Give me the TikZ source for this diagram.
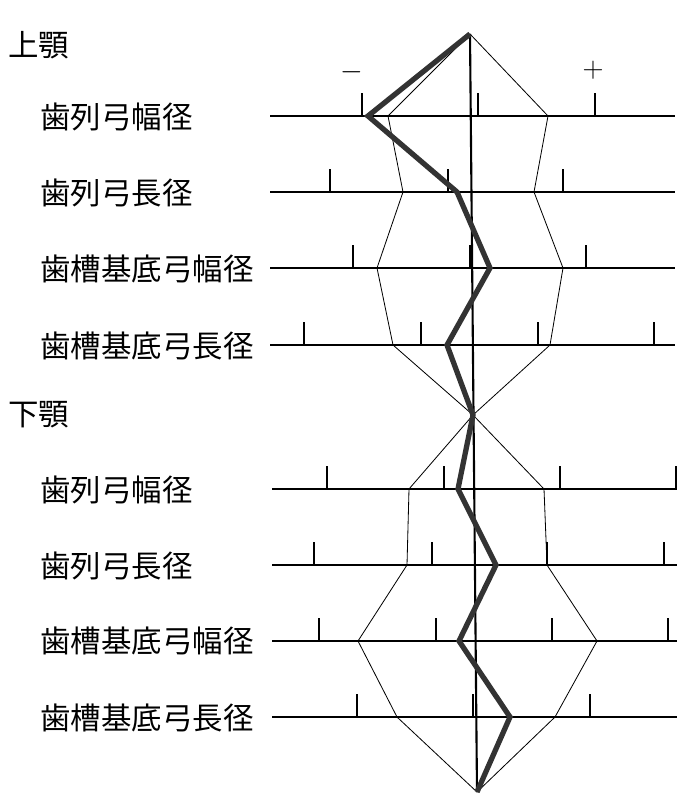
\documentclass[tikz,border=0pt]{standalone}
\usepackage{fontspec}
\newfontfamily\cjk{Noto Sans CJK JP}
\begin{document}
\begin{tikzpicture}[x=0.03cm,y=-0.03cm,
    lbl/.style={anchor=west,inner sep=0pt,font=\cjk\fontsize{26}{26}\selectfont},
    sign/.style={inner sep=0pt,font=\fontsize{26}{26}\selectfont},
    axis/.style={line width=1.8pt},
    tick/.style={line width=1pt},
    band/.style={line width=0.7pt},
    mean/.style={line width=4.5pt,draw=black!80,line join=miter}]
        \useasboundingbox (0,0) rectangle (692,796);
        % labels
        \node[lbl] (upper) at (8,45) {上顎};
        \node[lbl] (u1) at (40,117) {歯列弓幅径};
        \node[lbl] (u2) at (40,193) {歯列弓長径};
        \node[lbl] (u3) at (40,269) {歯槽基底弓幅径};
        \node[lbl] (u4) at (40,346) {歯槽基底弓長径};
        \node[lbl] (lower) at (8,415) {下顎};
        \node[lbl] (l1) at (40,490) {歯列弓幅径};
        \node[lbl] (l2) at (40,566) {歯列弓長径};
        \node[lbl] (l3) at (40,641) {歯槽基底弓幅径};
        \node[lbl] (l4) at (40,718) {歯槽基底弓長径};
        \node[sign] (minus) at (352,72) {$-$};
        \node[sign] (plus) at (593,70) {$+$};
        % axes
        \coordinate (top) at (470,34);
        \coordinate (mid) at (473,415);
        \coordinate (bot) at (477,792);
        \draw[axis] (top) -- (bot);
        \foreach \y in {116,192,268,345} {
            \draw[axis] (270,\y) -- (675,\y);
        }
        \foreach \y in {489,565,641,717} {
            \draw[axis] (272,\y) -- (677,\y);
        }
        % ticks
        \foreach \x/\y in {362/116,478/116,595/116,330/192,448/192,563/192,
                353/268,470/268,586/268,304/345,421/345,538/345,654/345,
                327/489,444/489,560/489,676/489,314/565,432/565,547/565,664/565,
                319/641,436/641,552/641,668/641,357/717,473/717,590/717} {
            \draw[tick] (\x,\y) -- (\x,\y-23);
        }
        % spread bands
        \draw[band] (top) -- (388,116) -- (403,192) -- (377,268) -- (393,345) -- (mid)
            -- (409,489) -- (407,565) -- (358,641) -- (397,717) -- (bot);
        \draw[band] (top) -- (548,116) -- (534,192) -- (563,268) -- (550,345) -- (mid)
            -- (544,489) -- (547,565) -- (597,641) -- (555,717) -- (bot);
        % mean profile
        \draw[mean] (top) -- (368,116) -- (457,192) -- (490,268) -- (447,345) -- (mid)
            -- (458,489) -- (496,565) -- (459,641) -- (510,717) -- (bot);
\end{tikzpicture}
\end{document}
